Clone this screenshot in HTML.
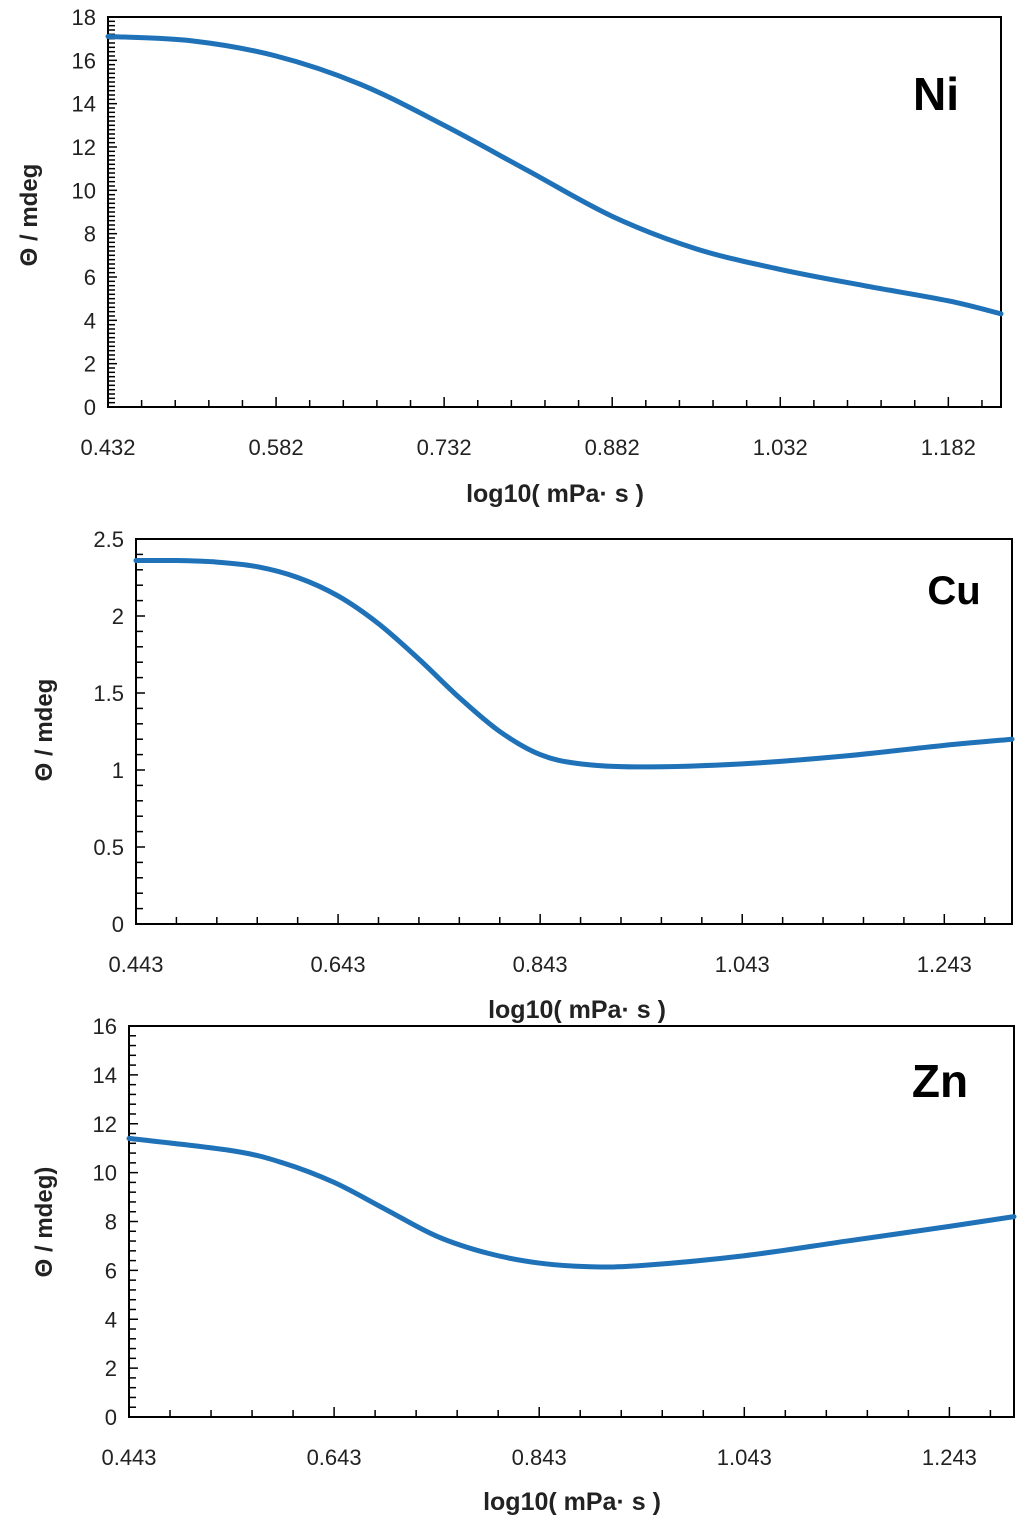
<!DOCTYPE html>
<html><head><meta charset="utf-8"><style>
html,body{margin:0;padding:0;background:#fff;}
svg{display:block;font-family:"Liberation Sans",sans-serif;}
</style></head><body>
<svg id="s" width="1024" height="1526"></svg>
<script>
const niX=[0.432,0.507,0.582,0.657,0.732,0.807,0.882,0.957,1.032,1.107,1.182,1.229];
const niY=[17.1,16.9,16.2,14.9,13.0,10.9,8.8,7.3,6.35,5.6,4.9,4.3];
const cuX=[0.443,0.483,0.523,0.563,0.603,0.643,0.683,0.723,0.763,0.803,0.843,0.883,0.943,1.043,1.143,1.243,1.310];
const cuY=[2.36,2.36,2.35,2.32,2.25,2.13,1.95,1.72,1.47,1.25,1.10,1.04,1.02,1.04,1.09,1.16,1.2];
const znX=[0.443,0.543,0.593,0.643,0.693,0.743,0.793,0.843,0.893,0.943,1.043,1.143,1.243,1.306];
const znY=[11.4,10.9,10.4,9.6,8.5,7.4,6.7,6.3,6.15,6.2,6.6,7.2,7.8,8.2];
const niTicks=["0.432","0.582","0.732","0.882","1.032","1.182"];
const cuTicks=["0.443","0.643","0.843","1.043","1.243"];
const znTicks=["0.443","0.643","0.843","1.043","1.243"];
const NS="http://www.w3.org/2000/svg";
const svg=document.getElementById('s');
function mk(t,a,p){const e=document.createElementNS(NS,t);for(const k in a)e.setAttribute(k,a[k]);(p||svg).appendChild(e);return e;}
function chart(c){
 const g=mk('g',{});
 
 
 const sx=v=>c.L+(v-c.x0)/(c.x1-c.x0)*(c.R-c.L);
 const sy=v=>c.B-(v-c.y0)/(c.y1-c.y0)*(c.B-c.T);
 for(let v=c.y0;v<=c.y1+1e-9;v+=c.ym){const y=sy(v);const major=Math.abs(v/c.yM-Math.round(v/c.yM))<1e-6;mk('line',{x1:c.L,x2:c.L+(major?9:7),y1:y,y2:y,stroke:'#000','stroke-width':1.5},g);}
 for(let v=c.y0;v<=c.y1+1e-9;v+=c.yM){const t=mk('text',{x:c.L-12,y:sy(v)+8,'text-anchor':'end','font-size':22,fill:'#222'},g);t.textContent=+v.toFixed(1);
  }
 for(let v=c.x0;v<=c.x1+1e-9;v+=c.xm){const x=sx(v);const k=Math.round((v-c.x0)/c.xm);const major=k%c.xper===0;mk('line',{x1:x,x2:x,y1:c.B,y2:c.B-(major?10:7),stroke:'#000','stroke-width':1.5},g);}
 c.ticks.forEach(s=>{const t=mk('text',{x:sx(parseFloat(s)),y:c.B+48,'text-anchor':'middle','font-size':22,fill:'#222'},g);t.textContent=s;
  });
 mk('rect',{x:c.L,y:c.T,width:c.R-c.L,height:c.B-c.T,fill:'none',stroke:'#000','stroke-width':2},g);
 const P=c.xs.map((x,i)=>[sx(x),sy(c.ys[i])]);
 let d='M'+P[0][0]+','+P[0][1];
 for(let i=0;i<P.length-1;i++){const p0=P[Math.max(0,i-1)],p1=P[i],p2=P[i+1],p3=P[Math.min(P.length-1,i+2)];
  d+=' C'+(p1[0]+(p2[0]-p0[0])/6)+','+(p1[1]+(p2[1]-p0[1])/6)+' '+(p2[0]-(p3[0]-p1[0])/6)+','+(p2[1]-(p3[1]-p1[1])/6)+' '+p2[0]+','+p2[1];}
 const path=mk('path',{d:d,fill:'none',stroke:'#1f72b8','stroke-width':5,'stroke-linecap':'round'},g);
 
 
 const lb=mk('text',{x:c.lx,y:c.ly,'text-anchor':'middle','font-size':c.lf,'font-weight':'bold',fill:'#000'},g);lb.textContent=c.label;
 
 const xt=mk('text',{x:c.xtx,y:c.xty,'text-anchor':'middle','font-size':25,'font-weight':'bold',fill:'#222'},g);xt.textContent='log10( mPa· s )';
 
 const yt=mk('text',{x:0,y:0,'text-anchor':'middle','font-size':24,'font-weight':'bold',fill:'#222',transform:'translate('+c.ytx+','+c.yty+') rotate(-90)'},g);yt.textContent=c.ytitle;
 
}
chart({name:'ni',L:108,R:1001,T:17,B:407,x0:0.432,x1:1.229,y0:0,y1:18,yM:2,ym:0.2,xm:0.03,xper:5,ticks:niTicks,xs:niX,ys:niY,label:'Ni',lx:936,ly:110,lf:46,xtx:555,xty:502,ytx:37,yty:215,ytitle:'Θ / mdeg'});
chart({name:'cu',L:136,R:1012,T:539,B:924,x0:0.443,x1:1.310,y0:0,y1:2.5,yM:0.5,ym:0.1,xm:0.04,xper:5,ticks:cuTicks,xs:cuX,ys:cuY,label:'Cu',lx:954,ly:604,lf:40,xtx:577,xty:1018,ytx:52,yty:730,ytitle:'Θ / mdeg'});
chart({name:'zn',L:129,R:1014,T:1026,B:1417,x0:0.443,x1:1.306,y0:0,y1:16,yM:2,ym:0.4,xm:0.04,xper:5,ticks:znTicks,xs:znX,ys:znY,label:'Zn',lx:940,ly:1097,lf:46,xtx:572,xty:1510,ytx:52,yty:1222,ytitle:'Θ / mdeg)'});
</script>
</body></html>
